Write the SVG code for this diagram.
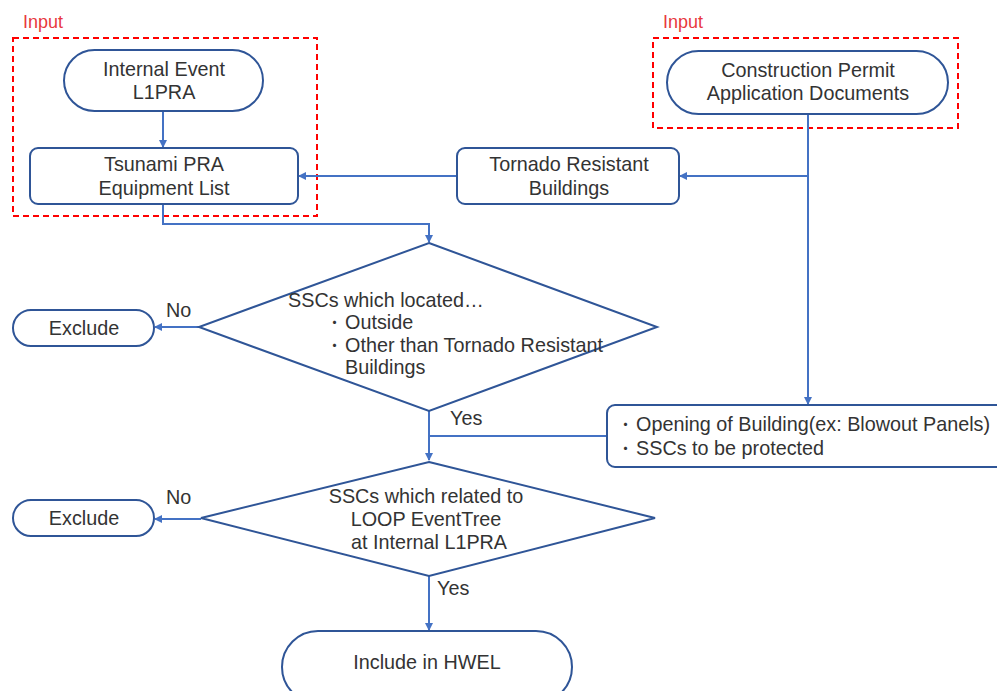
<svg xmlns="http://www.w3.org/2000/svg" width="997" height="691" viewBox="0 0 997 691">
<style>
.bg{fill:#ffffff}
.shape{fill:#ffffff;stroke:#2F5597;stroke-width:2}
.input{fill:none;stroke:#FF0000;stroke-width:2;stroke-dasharray:6 4}
.conn{fill:none;stroke:#4472C4;stroke-width:2}
.t{font-family:"Liberation Sans","Noto Sans CJK JP",sans-serif;font-size:19.8px;fill:#333333}
.j{font-family:"Noto Sans CJK JP",sans-serif;font-size:15px}
.c{text-anchor:middle}
.red{font-family:"Liberation Sans","Noto Sans CJK JP",sans-serif;font-size:18px;fill:#E8383D}
</style>
<defs>
<marker id="arr" markerWidth="8" markerHeight="8" refX="7" refY="4" orient="auto" markerUnits="userSpaceOnUse">
<path d="M0,0 L8,4 L0,8 z" fill="#4472C4"/>
</marker>
</defs>
<rect class="bg" x="0" y="0" width="997" height="691"/>

<g id="input-left">
<rect class="input" x="13" y="38" width="304" height="178"/>
<text class="red" x="23" y="28">Input</text>
</g>
<g id="input-right">
<rect class="input" x="653" y="38" width="305" height="90"/>
<text class="red" x="663" y="28">Input</text>
</g>

<g id="connectors">
<line class="conn" x1="163" y1="111" x2="163" y2="147" marker-end="url(#arr)"/>
<line class="conn" x1="808" y1="114" x2="808" y2="404" marker-end="url(#arr)"/>
<line class="conn" x1="808" y1="176" x2="680" y2="176" marker-end="url(#arr)"/>
<line class="conn" x1="457" y1="176" x2="299" y2="176" marker-end="url(#arr)"/>
<polyline class="conn" points="163,204 163,224 429,224 429,242" marker-end="url(#arr)"/>
<line class="conn" x1="199" y1="327" x2="155" y2="327" marker-end="url(#arr)"/>
<line class="conn" x1="429" y1="411" x2="429" y2="460" marker-end="url(#arr)"/>
<line class="conn" x1="429" y1="436" x2="607" y2="436"/>
<line class="conn" x1="201" y1="519" x2="155" y2="519" marker-end="url(#arr)"/>
<line class="conn" x1="429" y1="576" x2="429" y2="630" marker-end="url(#arr)"/>
<text class="t" x="166" y="317">No</text>
<text class="t" x="166" y="504">No</text>
<text class="t" x="450" y="425">Yes</text>
<text class="t" x="437" y="595">Yes</text>
</g>

<g id="internal-event">
<rect class="shape" x="64" y="50" width="199" height="61" rx="30.5"/>
<text class="t c" x="164" y="76">Internal Event</text>
<text class="t c" x="164" y="99">L1PRA</text>
</g>

<g id="tsunami-list">
<rect class="shape" x="30" y="148" width="268" height="56" rx="8"/>
<text class="t c" x="164" y="171">Tsunami PRA</text>
<text class="t c" x="164" y="195">Equipment List</text>
</g>

<g id="construction-permit">
<rect class="shape" x="667" y="51" width="281" height="63" rx="31.5"/>
<text class="t c" x="808" y="77">Construction Permit</text>
<text class="t c" x="808" y="100">Application Documents</text>
</g>

<g id="tornado-buildings">
<rect class="shape" x="457" y="148" width="222" height="56" rx="8"/>
<text class="t c" x="569" y="171">Tornado Resistant</text>
<text class="t c" x="569" y="195">Buildings</text>
</g>

<g id="decision-location">
<polygon class="shape" points="429,243 657,327 429,411 199,327"/>
<text class="t" x="288" y="307">SSCs which located…</text>
<text class="t" x="325" y="329"><tspan class="j" dx="2" dy="-1.5">・</tspan><tspan dx="3" dy="1.5">Outside</tspan></text>
<text class="t" x="325" y="352"><tspan class="j" dx="2" dy="-1.5">・</tspan><tspan dx="3" dy="1.5">Other than Tornado Resistant</tspan></text>
<text class="t" x="345" y="374">Buildings</text>
</g>

<g id="exclude-1">
<rect class="shape" x="13" y="310" width="141" height="36" rx="18"/>
<text class="t c" x="84" y="335">Exclude</text>
</g>

<g id="opening-box">
<rect class="shape" x="607" y="405" width="400" height="62" rx="8"/>
<text class="t" x="616" y="431"><tspan class="j" dx="2" dy="-1.5">・</tspan><tspan dx="3" dy="1.5">Opening of Building(ex: Blowout Panels)</tspan></text>
<text class="t" x="616" y="455"><tspan class="j" dx="2" dy="-1.5">・</tspan><tspan dx="3" dy="1.5">SSCs to be protected</tspan></text>
</g>

<g id="decision-loop">
<polygon class="shape" points="429,462 655,518 429,576 201,518"/>
<text class="t c" x="426" y="503">SSCs which related to</text>
<text class="t c" x="426" y="526">LOOP EventTree</text>
<text class="t c" x="429" y="549">at Internal L1PRA</text>
</g>

<g id="exclude-2">
<rect class="shape" x="13" y="500" width="141" height="36" rx="18"/>
<text class="t c" x="84" y="525">Exclude</text>
</g>

<g id="include-hwel">
<rect class="shape" x="282" y="631" width="290" height="72" rx="36"/>
<text class="t c" x="427" y="669">Include in HWEL</text>
</g>
</svg>
